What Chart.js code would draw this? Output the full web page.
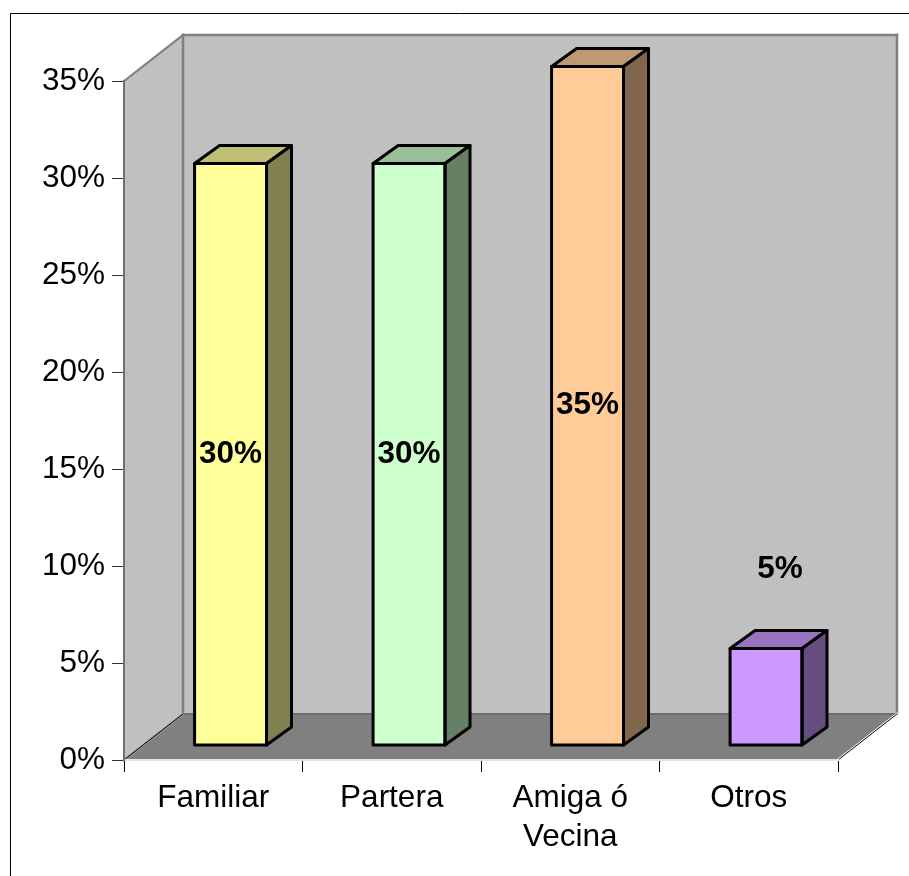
<!DOCTYPE html>
<html>
<head>
<meta charset="utf-8">
<style>
    html, body { margin: 0; padding: 0; background: #fff; }
    canvas { display: block; }
</style>
<script src="https://cdn.jsdelivr.net/npm/chart.js@4"></script>
</head>
<body>
<canvas id="chart" width="909" height="876"></canvas>
<script>
const categories = ["Familiar", "Partera", ["Amiga ó", "Vecina"], "Otros"];
const values = [30, 30, 35, 5];
const dataLabels = ["30%", "30%", "35%", "5%"];
const frontColors = ["#FFFF99", "#CCFFCC", "#FFCC99", "#CC99FF"];
const topColors = ["#BFBF73", "#99BF99", "#BF9973", "#9973BF"];
const sideColors = ["#808050", "#668066", "#80664D", "#664D80"];

const FONT = '"Liberation Sans", Arial, sans-serif';
const BAR_LINE = 3;

// fake 3D: room depth, how far bars sit in the room, and bar depth
const room = { dx: 59, dy: 46 };
const barShift = { dx: 17.3, dy: 14.5 };
const barDepth = { dx: 25, dy: 18 };

function poly(ctx, pts, fill, stroke, width) {
    ctx.beginPath();
    pts.forEach((p, i) => (i ? ctx.lineTo(p[0], p[1]) : ctx.moveTo(p[0], p[1])));
    ctx.closePath();
    if (fill) {
        ctx.fillStyle = fill;
        ctx.fill();
    }
    if (stroke) {
        ctx.strokeStyle = stroke;
        ctx.lineWidth = width;
        ctx.stroke();
    }
}

function line(ctx, x1, y1, x2, y2, color, width) {
    ctx.beginPath();
    ctx.moveTo(x1, y1);
    ctx.lineTo(x2, y2);
    ctx.strokeStyle = color;
    ctx.lineWidth = width;
    ctx.stroke();
}

const room3d = {
    id: "room3d",
    beforeDraw(chart) {
        const { ctx, chartArea: a } = chart;
        const dx = room.dx, dy = room.dy;
        ctx.save();
        // outer frame, only top and left are visible
        line(ctx, 10.5, 13.5, 909, 13.5, "#000", 1);
        line(ctx, 10.5, 13.5, 10.5, 876, "#000", 1);
        // back wall, side wall, floor
        poly(ctx, [[a.left + dx, a.top - dy], [a.right + dx, a.top - dy], [a.right + dx, a.bottom - dy], [a.left + dx, a.bottom - dy]], "#C0C0C0");
        poly(ctx, [[a.left, a.top], [a.left + dx, a.top - dy], [a.left + dx, a.bottom - dy], [a.left, a.bottom]], "#C0C0C0");
        poly(ctx, [[a.left, a.bottom], [a.left + dx, a.bottom - dy], [a.right + dx, a.bottom - dy], [a.right, a.bottom]], "#808080");
        // wall edges
        ctx.lineCap = "square";
        line(ctx, a.left, a.top, a.left + dx, a.top - dy, "#808080", 2);
        line(ctx, a.left + dx, a.top - dy, a.right + dx, a.top - dy, "#808080", 2.5);
        line(ctx, a.left + dx, a.top - dy, a.left + dx, a.bottom - dy, "#808080", 2.5);
        line(ctx, a.right + dx, a.top - dy, a.right + dx, a.bottom - dy, "#808080", 2.5);
        line(ctx, a.left + dx, a.bottom - dy, a.right + dx, a.bottom - dy, "#6e6e6e", 2);
        // floor edges
        line(ctx, a.left, a.bottom, a.left + dx, a.bottom - dy, "#A0A0A0", 2.5);
        line(ctx, a.left, a.bottom, a.left + dx, a.bottom - dy, "#000", 1);
        line(ctx, a.right, a.bottom, a.right + dx, a.bottom - dy, "#fff", 2.5);
        line(ctx, a.right, a.bottom, a.right + dx, a.bottom - dy, "#000", 1);
        ctx.restore();
    },
    beforeDatasetDraw(chart) {
        chart.ctx.save();
        chart.ctx.translate(barShift.dx, -barShift.dy);
    },
    afterDatasetDraw(chart, args) {
        const ctx = chart.ctx;
        ctx.lineJoin = "round";
        args.meta.data.forEach((bar, i) => {
            const l = bar.x - bar.width / 2, r = bar.x + bar.width / 2;
            const t = bar.y, b = bar.base;
            const dx = barDepth.dx, dy = barDepth.dy;
            poly(ctx, [[l, t], [l + dx, t - dy], [r + dx, t - dy], [r, t]], topColors[i], "#000", BAR_LINE);
            poly(ctx, [[r, t], [r + dx, t - dy], [r + dx, b - dy], [r, b]], sideColors[i], "#000", BAR_LINE);
            // outline sits on the bar edge, Chart.js would draw it inside
            poly(ctx, [[l, t], [r, t], [r, b], [l, b]], null, "#000", BAR_LINE);
        });
        ctx.restore();
    },
    afterDatasetsDraw(chart, args, opts) {
        const ctx = chart.ctx;
        const bars = chart.getDatasetMeta(0).data;
        ctx.save();
        ctx.font = "bold 31.5px " + FONT;
        ctx.fillStyle = "#000";
        ctx.textAlign = "center";
        ctx.textBaseline = "middle";
        bars.forEach((bar, i) => {
            const nudge = opts.labelNudge[i] || [0, 0];
            const x = bar.x + barShift.dx + nudge[0];
            const y = (bar.y + bar.base) / 2 - barShift.dy + nudge[1];
            ctx.fillText(dataLabels[i], x, y);
        });
        ctx.restore();
    },
};

new Chart(document.getElementById("chart"), {
    type: "bar",
    data: {
        labels: categories,
        datasets: [
            {
                data: values,
                backgroundColor: frontColors,
                borderWidth: 0,
                barPercentage: 0.403,
                categoryPercentage: 1,
            },
        ],
    },
    plugins: [room3d],
    options: {
        responsive: false,
        animation: false,
        layout: { padding: { top: 81, right: 71, left: 0, bottom: 0 } },
        plugins: {
            legend: { display: false },
            tooltip: { enabled: false },
            room3d: { labelNudge: [null, null, null, [14, -127]] },
        },
        scales: {
            x: {
                afterFit(scale) {
                    scale.height = 116;
                },
                grid: { drawOnChartArea: false, tickLength: 12, color: "#000", tickColor: "#000" },
                border: { color: "#e4e4e4", width: 2 },
                ticks: {
                    color: "#000",
                    font: { family: FONT, size: 31.5, lineHeight: 1.24 },
                    padding: 7,
                    maxRotation: 0,
                    autoSkip: false,
                },
            },
            y: {
                min: 0,
                max: 35,
                afterFit(scale) {
                    scale.width = 124;
                },
                grid: { drawOnChartArea: false, tickLength: 12, color: "#000", tickColor: "#333" },
                border: { color: "#707070", width: 2 },
                ticks: {
                    stepSize: 5,
                    color: "#000",
                    font: { family: FONT, size: 31.5 },
                    padding: 7,
                    callback: (v) => v + "%",
                },
            },
        },
    },
});
</script>
</body>
</html>
